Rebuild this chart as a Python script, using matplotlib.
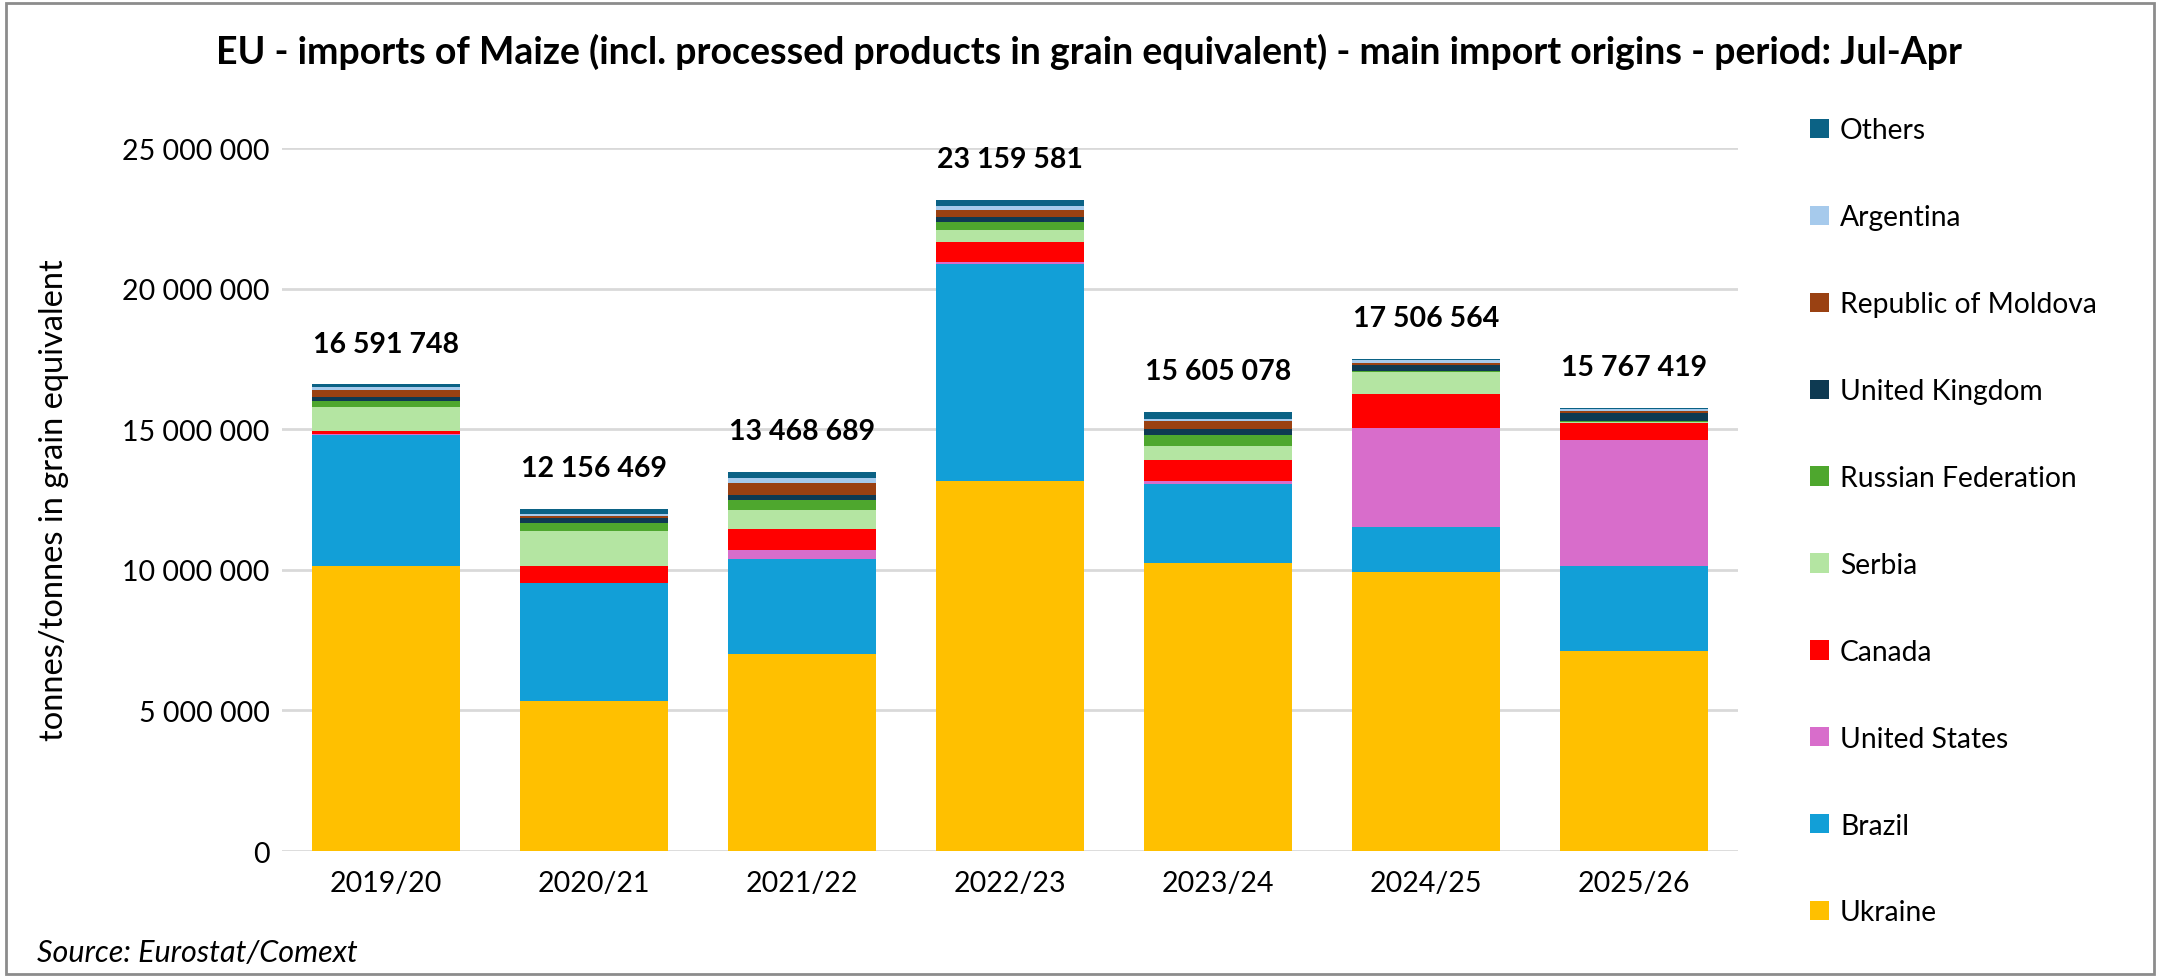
import numpy as np
import matplotlib
matplotlib.use("Agg")
from matplotlib import pyplot as plt
from matplotlib.patches import Rectangle
from matplotlib.ticker import FuncFormatter

plt.rcParams['font.family'] = ['Lato', 'DejaVu Sans']

# Marketing years
years = ["2019/20", "2020/21", "2021/22", "2022/23", "2023/24", "2024/25", "2025/26"]

# Imports per origin, million tonnes
ukraine = [10.14, 5.32, 7.02, 13.16, 10.26, 9.92, 7.10]
brazil = [4.66, 4.21, 3.36, 7.73, 2.79, 1.61, 3.03]
united_states = [0.02, 0.00, 0.31, 0.07, 0.11, 3.51, 4.47]
canada = [0.13, 0.62, 0.76, 0.71, 0.75, 1.22, 0.63]
serbia = [0.85, 1.24, 0.66, 0.43, 0.51, 0.78, 0.04]
russia = [0.19, 0.28, 0.38, 0.27, 0.36, 0.02, 0.02]
united_kingdom = [0.15, 0.18, 0.17, 0.19, 0.24, 0.24, 0.27]
moldova = [0.27, 0.05, 0.43, 0.25, 0.27, 0.06, 0.08]
argentina = [0.09, 0.08, 0.17, 0.11, 0.07, 0.09, 0.08]
others = [0.09, 0.17, 0.21, 0.24, 0.24, 0.05, 0.05]

# Totals shown above bars
totals = [16591748, 12156469, 13468689, 23159581, 15605078, 17506564, 15767419]

series = [
    ("Ukraine", ukraine, "#FFC000"),
    ("Brazil", brazil, "#129FD7"),
    ("United States", united_states, "#D86DCB"),
    ("Canada", canada, "#FF0000"),
    ("Serbia", serbia, "#B4E5A2"),
    ("Russian Federation", russia, "#4EA72E"),
    ("United Kingdom", united_kingdom, "#0E3A52"),
    ("Republic of Moldova", moldova, "#9A4112"),
    ("Argentina", argentina, "#A6CAEC"),
    ("Others", others, "#0B6285"),
]


def spaced(v, pos=None):
    return f"{int(round(v)):,}".replace(",", " ")


fig = plt.figure(figsize=(21.6, 9.79), dpi=100)
ax = fig.add_axes([0.1306, 0.1297, 0.674, 0.7181])

x = np.arange(len(years))
bottom = np.zeros(len(years))
handles = []
for name, vals, color in series:
    v = np.array(vals) * 1e6
    b = ax.bar(x, v, 0.715, bottom=bottom, color=color, label=name, zorder=3)
    handles.append(b)
    bottom += v

# Total labels
for xi, tot in zip(x, totals):
    ax.annotate(spaced(tot), (xi, tot), xytext=(0, 20), textcoords="offset points",
                ha="center", va="bottom", fontsize=20.5, fontweight="bold")

ax.set_xlim(-0.5, len(years) - 0.5)
ax.set_ylim(0, 25e6)
ax.set_yticks(np.arange(0, 25e6 + 1, 5e6))
ax.yaxis.set_major_formatter(FuncFormatter(spaced))
ax.set_xticks(x)
ax.set_xticklabels(years)
ax.tick_params(axis="both", length=0, labelsize=20.5, pad=14)
ax.tick_params(axis="y", pad=9)
ax.grid(axis="y", color="#D9D9D9", linewidth=2, zorder=0)
for s in ax.spines.values():
    s.set_visible(False)

ax.set_ylabel("tonnes/tonnes in grain equivalent", fontsize=23.5, labelpad=38)

fig.text(0.504, 0.947, "EU - imports of Maize (incl. processed products in grain equivalent) - main import origins - period: Jul-Apr",
         ha="center", va="center", fontsize=27, fontweight="bold")

fig.text(0.017, 0.027, "Source: Eurostat/Comext", ha="left", va="center", fontsize=22, style="italic")

leg = fig.legend(handles[::-1], [s[0] for s in series][::-1], loc="upper left",
                 bbox_to_anchor=(0.826, 0.905), frameon=False, fontsize=20.3,
                 labelspacing=2.16, handlelength=0.68, handleheight=0.68, handletextpad=0.4)

# Outer frame
fig.patches.append(Rectangle((0.003, 0.004), 0.994, 0.992, transform=fig.transFigure,
                             fill=False, edgecolor="#8C8C8C", linewidth=2))

fig.savefig("out.png", dpi=100)
